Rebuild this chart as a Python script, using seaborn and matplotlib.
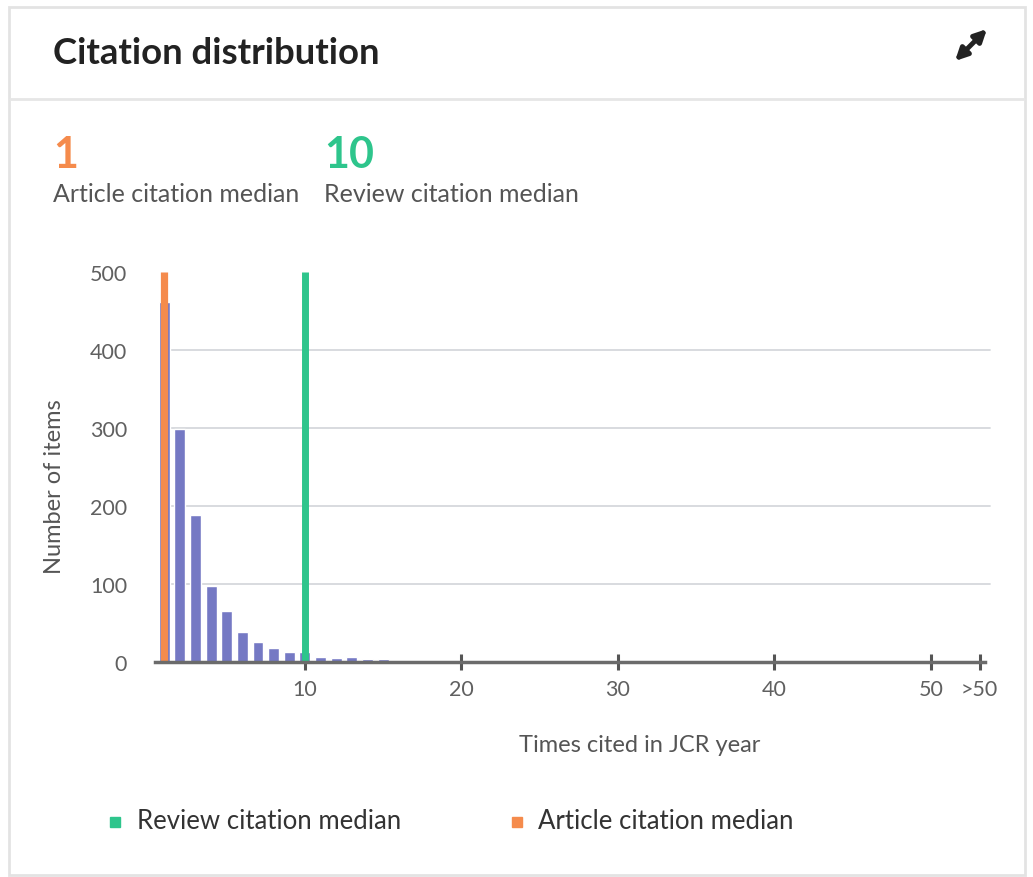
import matplotlib
matplotlib.use("Agg")
import matplotlib.pyplot as plt
import seaborn as sns
import pandas as pd
from matplotlib.patches import Rectangle
from matplotlib.lines import Line2D

# ---- data ----
times_cited = [1, 2, 3, 4, 5, 6, 7, 8, 9, 10, 11, 12, 13, 14, 15, 27, 33]
num_items = [461, 299, 188, 97, 66, 38, 26, 18, 13, 13, 6, 5, 6, 4, 4, 1, 1]
article_median = 1
review_median = 10
x_tick_values = [10, 20, 30, 40, 50, 53.1]
x_tick_labels = ["10", "20", "30", "40", "50", ">50"]
y_tick_values = [0, 100, 200, 300, 400, 500]

BAR = "#7579c4"
ORANGE = "#f58b4c"
GREEN = "#2ec58c"

sns.set_style("white")
plt.rcParams["font.family"] = ["Lato", "DejaVu Sans"]

W, H = 1033, 878
fig = plt.figure(figsize=(W / 100, H / 100), dpi=100)

def px(x0, y0, x1, y1):
    return [x0 / W, 1 - y1 / H, (x1 - x0) / W, (y1 - y0) / H]

ax = fig.add_axes(px(155, 273, 985, 663))
df = pd.DataFrame({"times": times_cited, "items": num_items})
sns.barplot(data=df, x="times", y="items", native_scale=True, width=0.7,
            color=BAR, saturation=1, ax=ax, zorder=2)
ax.set_xlim(0.42, 53.45)
ax.set_ylim(0, 500)

# gridlines
for yv in y_tick_values[1:-1]:
    ax.axhline(yv, color="#d5d8dc", lw=1.3, zorder=0, xmin=0.006, xmax=1.006, clip_on=False)

# median lines
ax.vlines(article_median, 0, 500, color=ORANGE, lw=5.2, zorder=3)
ax.vlines(review_median, 0, 500, color=GREEN, lw=5.0, zorder=3)

for s in ["top", "right", "left"]:
    ax.spines[s].set_visible(False)
ax.spines["bottom"].set_color("#6b6b6b")
ax.spines["bottom"].set_linewidth(2.5)
ax.spines["bottom"].set_zorder(4)

ax.set_xticks(x_tick_values)
ax.set_xticklabels(x_tick_labels)
ax.tick_params(axis="x", bottom=True, direction="inout", length=12, width=2.2,
               color="#555555", labelsize=15.5, labelcolor="#606060", pad=6)
ax.set_yticks(y_tick_values)
ax.set_yticklabels([str(v) for v in y_tick_values])
ax.tick_params(axis="y", left=False, length=0, labelsize=15.5, labelcolor="#606060", pad=20)

ax.set_xlabel("Times cited in JCR year", fontsize=17, color="#555555", va="center")
ax.xaxis.set_label_coords((640 - 155) / 830, -(746 - 663) / 390)
ax.set_ylabel("Number of items", fontsize=17, color="#555555", va="center")
ax.yaxis.set_label_coords(-(155 - 55) / 830, (663 - 487) / 390)

# card frame
fig.patches.append(Rectangle((9 / W, 2 / H), (1025 - 9) / W, (870 - 2) / H,
                             transform=fig.transFigure, fill=False,
                             edgecolor="#e3e3e3", lw=2))
fig.lines.append(Line2D([10 / W, 1024 / W], [1 - 100 / H, 1 - 100 / H],
                        transform=fig.transFigure, color="#e6e6e6", lw=2))

# header
fig.text(53 / W, 1 - 54 / H, "Citation distribution", fontsize=26.3, fontweight="bold",
         color="#222222", va="center", ha="left")
fig.add_artist(plt.Annotation("", xy=(987 / W, 1 - 30 / H), xytext=(955 / W, 1 - 62 / H),
                              xycoords="figure fraction", textcoords="figure fraction",
                              arrowprops=dict(arrowstyle="<|-|>", lw=3.5, color="#222222",
                                              mutation_scale=18, shrinkA=0, shrinkB=0)))

# medians
fig.text(53 / W, 1 - 155 / H, str(article_median), fontsize=31, fontweight="bold",
         color=ORANGE, va="center", ha="left")
fig.text(324 / W, 1 - 155 / H, str(review_median), fontsize=31, fontweight="bold",
         color=GREEN, va="center", ha="left")
fig.text(53 / W, 1 - 195 / H, "Article citation median", fontsize=18,
         color="#555555", va="center", ha="left")
fig.text(324 / W, 1 - 195 / H, "Review citation median", fontsize=18,
         color="#555555", va="center", ha="left")

# legend
fig.patches.append(Rectangle((110 / W, 1 - 828 / H), 10 / W, 10 / H,
                             transform=fig.transFigure, color=GREEN))
fig.text(137 / W, 1 - 822 / H, "Review citation median", fontsize=18.5,
         color="#333333", va="center", ha="left")
fig.patches.append(Rectangle((512 / W, 1 - 828 / H), 10 / W, 10 / H,
                             transform=fig.transFigure, color=ORANGE))
fig.text(538 / W, 1 - 822 / H, "Article citation median", fontsize=18.5,
         color="#333333", va="center", ha="left")

fig.savefig("out.png", dpi=100)
